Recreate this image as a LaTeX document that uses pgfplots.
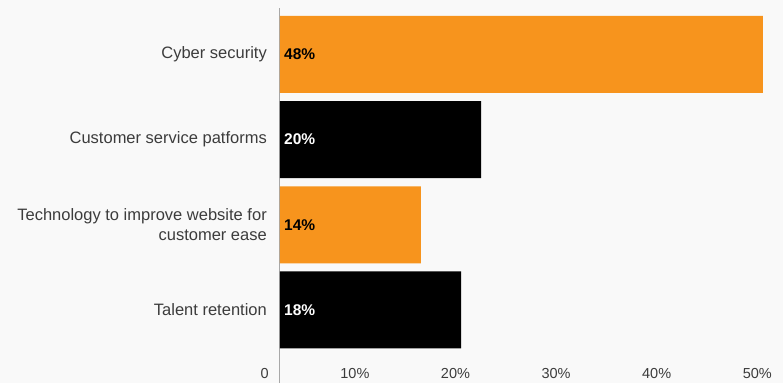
\documentclass[border=0pt]{standalone}
\usepackage{fontspec}
\setmainfont{Liberation Sans}
\usepackage{pgfplots}
\pgfplotsset{compat=1.18}
\definecolor{bgc}{HTML}{F9F9F9}
\definecolor{orng}{HTML}{F7941D}
\definecolor{lbl}{HTML}{3C3C3C}
\definecolor{axc}{HTML}{A8A8A8}
\begin{document}
\begin{tikzpicture}[x=1pt,y=1pt]
\fill[bgc] (-280,0) rectangle (503,383);
\begin{axis}[at={(0,0)}, anchor=south west, scale only axis,
  width=503pt, height=375pt,
  xmin=0, xmax=50, ymin=-0.857, ymax=3.545,
  axis lines*=left,
  x axis line style={draw=none},
  y axis line style={draw=axc, line width=1pt},
  major tick length=0pt, tick style={draw=none},
  xtick={0,10,20,30,40,50},
  xticklabels={0,10\%,20\%,30\%,40\%,50\%},
  xticklabel style={anchor=base east, inner sep=0pt, xshift=-11pt, yshift=5pt,
    font=\fontsize{14.5}{18}\selectfont, text=lbl},
  ytick={0,1,2,3},
  yticklabels={Talent retention,{Technology to improve website for\\customer ease},Customer service patforms,Cyber security},
  yticklabel style={anchor=east, align=right, inner sep=0pt, xshift=-13pt,
    font=\fontsize{16.5}{20.5}\selectfont, text=lbl},
  clip=false,
]
\addplot[xbar, bar width=77pt, bar shift=0pt, fill=orng, draw=none] coordinates {(48,3) (14,1)};
\addplot[xbar, bar width=77pt, bar shift=0pt, fill=black, draw=none] coordinates {(20,2) (18,0)};
\addplot[draw=none, nodes near coords, point meta=explicit symbolic,
  nodes near coords style={anchor=west, inner sep=0pt, xshift=4pt,
    font=\bfseries\fontsize{15.5}{18}\selectfont, text=black}]
  coordinates {(0,3) [48\%] (0,1) [14\%]};
\addplot[draw=none, nodes near coords, point meta=explicit symbolic,
  nodes near coords style={anchor=west, inner sep=0pt, xshift=4pt,
    font=\bfseries\fontsize{15.5}{18}\selectfont, text=white}]
  coordinates {(0,2) [20\%] (0,0) [18\%]};
\end{axis}
\end{tikzpicture}
\end{document}
